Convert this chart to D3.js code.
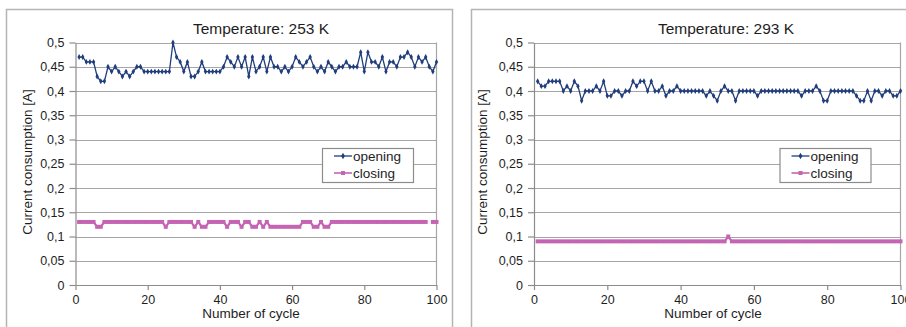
<!DOCTYPE html>
<html>
<head>
<meta charset="utf-8">
<script src="https://cdn.jsdelivr.net/npm/d3@7"></script>
<style>
  body { margin: 0; background: #fff; }
  svg text { font-family: "Liberation Sans", Arial, sans-serif; fill: #1e1e1e; }
  .tick text { font-size: 12.5px; }
  .title { font-size: 15.5px; }
  .axis-label { font-size: 13.5px; }
  .legend-text { font-size: 13.5px; }
</style>
</head>
<body>
<div id="svg"></div>
<script>
// cycle index 1..100 is the position in each series
let yTicks = [0, 0.05, 0.1, 0.15, 0.2, 0.25, 0.3, 0.35, 0.4, 0.45, 0.5];
let xTicks = [0, 20, 40, 60, 80, 100];
let seriesNames = ['opening', 'closing'];
let titles = ['Temperature: 253 K', 'Temperature: 293 K'];

let opening253 = [
  .47,.47,.46,.46,.46,.43,.42,.42,.45,.44,
  .45,.44,.43,.44,.43,.44,.45,.45,.44,.44,
  .44,.44,.44,.44,.44,.44,.50,.47,.46,.44,
  .46,.43,.43,.44,.46,.44,.44,.44,.44,.44,
  .45,.47,.46,.45,.47,.45,.47,.43,.47,.44,
  .45,.47,.44,.47,.45,.45,.44,.45,.44,.45,
  .47,.46,.45,.46,.47,.45,.44,.45,.44,.46,
  .45,.44,.45,.45,.46,.45,.45,.45,.48,.44,
  .48,.46,.46,.45,.47,.44,.46,.46,.45,.47,
  .47,.48,.47,.45,.47,.46,.47,.45,.44,.46
];
let closing253 = [
  .13,.13,.13,.13,.13,.12,.12,.13,.13,.13,
  .13,.13,.13,.13,.13,.13,.13,.13,.13,.13,
  .13,.13,.13,.13,.12,.13,.13,.13,.13,.13,
  .13,.13,.12,.13,.12,.12,.13,.13,.13,.13,
  .13,.12,.13,.13,.13,.12,.13,.13,.12,.12,
  .13,.12,.13,.12,.12,.12,.12,.12,.12,.12,
  .12,.12,.13,.13,.13,.12,.12,.13,.12,.12,
  .13,.13,.13,.13,.13,.13,.13,.13,.13,.13,
  .13,.13,.13,.13,.13,.13,.13,.13,.13,.13,
  .13,.13,.13,.13,.13,.13,.13,null,.13,.13
];
let opening293 = [
  .42,.41,.41,.42,.42,.42,.42,.40,.41,.40,
  .42,.41,.38,.40,.40,.40,.41,.40,.42,.39,
  .39,.40,.40,.39,.40,.40,.42,.41,.42,.42,
  .40,.42,.40,.40,.41,.39,.40,.40,.41,.40,
  .40,.40,.40,.40,.40,.40,.39,.40,.39,.38,
  .40,.41,.40,.40,.38,.40,.40,.40,.40,.40,
  .39,.40,.40,.40,.40,.40,.40,.40,.40,.40,
  .40,.40,.39,.40,.40,.40,.41,.40,.38,.38,
  .40,.40,.40,.40,.40,.40,.40,.39,.38,.38,
  .40,.38,.40,.40,.39,.40,.40,.39,.39,.40
];
let closing293 = [
  .09,.09,.09,.09,.09,.09,.09,.09,.09,.09,
  .09,.09,.09,.09,.09,.09,.09,.09,.09,.09,
  .09,.09,.09,.09,.09,.09,.09,.09,.09,.09,
  .09,.09,.09,.09,.09,.09,.09,.09,.09,.09,
  .09,.09,.09,.09,.09,.09,.09,.09,.09,.09,
  .09,.09,.10,.09,.09,.09,.09,.09,.09,.09,
  .09,.09,.09,.09,.09,.09,.09,.09,.09,.09,
  .09,.09,.09,.09,.09,.09,.09,.09,.09,.09,
  .09,.09,.09,.09,.09,.09,.09,.09,.09,.09,
  .09,.09,.09,.09,.09,.09,.09,.09,.09,.09
];

let openColor = '#203d7c';
let closeColor = '#c464b2';
let gridColor = '#a6a6a6';

let svg = d3.select('#svg')
  .append('svg')
  .attr('width', 906)
  .attr('height', 327);

function makeGraph(ox, title, opening, closing, lay) {
  // ox = left edge of the panel frame, lay = positions inside the panel
  let g = svg.append('g').attr('transform', `translate(${ox}, 0)`);
  let left = lay.left, right = lay.right, top = 42.5, bottom = 285;

  g.append('rect')
    .attr('x', 0.5).attr('y', 9.5)
    .attr('width', 446).attr('height', 330)
    .attr('fill', 'none')
    .attr('stroke', '#b4b4b4')
    .attr('stroke-width', 1.5);

  let xScale = d3.scaleLinear().domain([0, 100]).range([left, right]);
  let yScale = d3.scaleLinear().domain([0, 0.5]).range([bottom, top]);

  // gridlines
  g.append('g')
    .selectAll('line')
    .data(yTicks.slice(1))
    .enter()
    .append('line')
    .attr('x1', left).attr('x2', right)
    .attr('y1', d => Math.round(yScale(d)) + 0.5)
    .attr('y2', d => Math.round(yScale(d)) + 0.5)
    .attr('stroke', gridColor)
    .attr('stroke-width', 1.2);

  g.append('line')
    .attr('x1', right).attr('x2', right)
    .attr('y1', top).attr('y2', bottom)
    .attr('stroke', gridColor)
    .attr('stroke-width', 1.2);

  let xAxis = d3.axisBottom(xScale)
    .tickValues(xTicks)
    .tickSize(5)
    .tickSizeOuter(0)
    .tickPadding(5);
  let xAxisGroup = g.append('g')
    .attr('transform', `translate(0, ${bottom})`)
    .call(xAxis);

  let yAxis = d3.axisLeft(yScale)
    .tickValues(yTicks)
    .tickSize(6)
    .tickSizeOuter(0)
    .tickPadding(5)
    .tickFormat(d => String(+d.toFixed(2)).replace('.', ','));
  let yAxisGroup = g.append('g')
    .attr('transform', `translate(${left}, 0)`)
    .call(yAxis);

  [xAxisGroup, yAxisGroup].forEach(a => {
    a.selectAll('path, line').attr('stroke', '#8c8c8c').attr('stroke-width', 1.2);
  });

  let line = d3.line()
    .defined(d => d != null)
    .x((d, i) => xScale(i + 1))
    .y(d => yScale(d));

  // closing series
  g.append('path')
    .datum(closing)
    .attr('d', line)
    .attr('fill', 'none')
    .attr('stroke', closeColor)
    .attr('stroke-width', 2.2);
  g.append('g')
    .selectAll('rect')
    .data(closing.map((v, i) => ({ v: v, i: i })).filter(d => d.v != null))
    .enter()
    .append('rect')
    .attr('x', d => xScale(d.i + 1) - 2)
    .attr('y', d => yScale(d.v) - 2)
    .attr('width', 4).attr('height', 4)
    .attr('fill', closeColor);

  // opening series
  g.append('path')
    .datum(opening)
    .attr('d', line)
    .attr('fill', 'none')
    .attr('stroke', openColor)
    .attr('stroke-width', 1.3);
  g.append('g')
    .selectAll('path')
    .data(opening)
    .enter()
    .append('path')
    .attr('d', d3.symbol().type(d3.symbolDiamond).size(10))
    .attr('transform', (d, i) => `translate(${xScale(i + 1)}, ${yScale(d)})`)
    .attr('fill', openColor);

  // legend
  let legend = g.append('g').attr('transform', `translate(${lay.legendX}, 139)`);
  legend.append('rect')
    .attr('x', 0.5).attr('y', 9.5)
    .attr('width', 91).attr('height', 34)
    .attr('fill', '#fff')
    .attr('stroke', '#8c8c8c')
    .attr('stroke-width', 1.2);
  seriesNames.forEach((name, k) => {
    let yy = 17 + k * 17;
    let c = k === 0 ? openColor : closeColor;
    legend.append('line')
      .attr('x1', 12).attr('x2', 30)
      .attr('y1', yy).attr('y2', yy)
      .attr('stroke', c)
      .attr('stroke-width', k === 0 ? 1.3 : 1.6);
    if (k === 0) {
      legend.append('path')
        .attr('d', d3.symbol().type(d3.symbolDiamond).size(12))
        .attr('transform', `translate(21, ${yy})`)
        .attr('fill', c);
    } else {
      legend.append('rect')
        .attr('x', 19).attr('y', yy - 2)
        .attr('width', 4).attr('height', 4)
        .attr('fill', c);
    }
    legend.append('text')
      .classed('legend-text', true)
      .attr('x', 31)
      .attr('y', yy + 4.5)
      .text(name);
  });

  g.append('text')
    .classed('title', true)
    .attr('x', 255)
    .attr('y', 34)
    .attr('text-anchor', 'middle')
    .text(title);

  g.append('text')
    .classed('axis-label', true)
    .attr('transform', 'rotate(-90)')
    .attr('x', -162)
    .attr('y', lay.yLabel)
    .attr('text-anchor', 'middle')
    .text('Current consumption [A]');

  g.append('text')
    .classed('axis-label', true)
    .attr('x', lay.xLabel)
    .attr('y', 318)
    .attr('text-anchor', 'middle')
    .text('Number of cycle');
}

makeGraph(6, titles[0], opening253, closing253,
  { left: 69.5, right: 430.5, legendX: 316, yLabel: 26, xLabel: 245 });
makeGraph(471, titles[1], opening293, closing293,
  { left: 63, right: 429.5, legendX: 308.5, yLabel: 15.5, xLabel: 242 });
</script>
</body>
</html>
